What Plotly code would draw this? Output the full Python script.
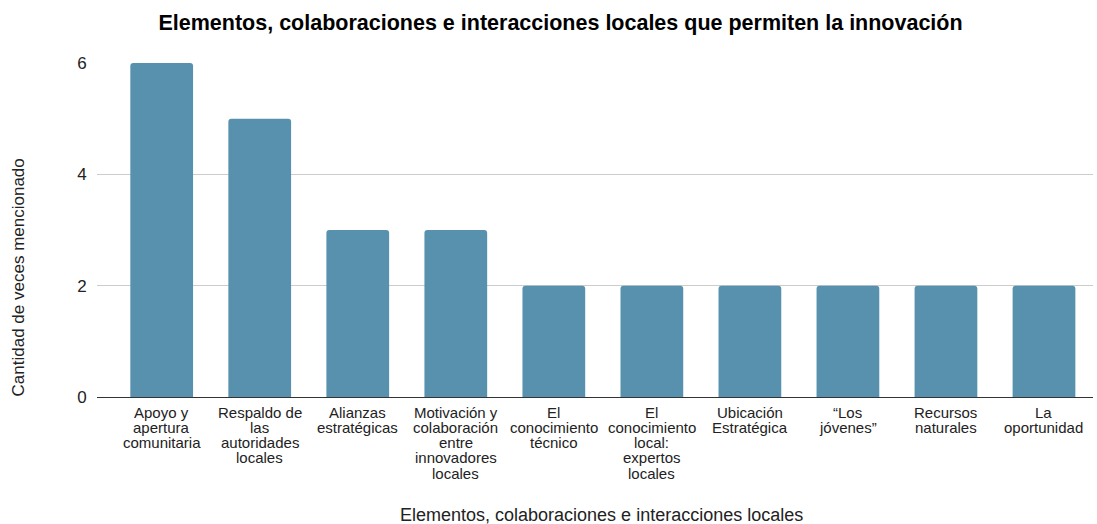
import plotly.graph_objects as go

category_lines = [
    ["Apoyo y", "apertura", "comunitaria"],
    ["Respaldo de", "las", "autoridades", "locales"],
    ["Alianzas", "estratégicas"],
    ["Motivación y", "colaboración", "entre", "innovadores", "locales"],
    ["El", "conocimiento", "técnico"],
    ["El", "conocimiento", "local:", "expertos", "locales"],
    ["Ubicación", "Estratégica"],
    ["“Los", "jóvenes”"],
    ["Recursos", "naturales"],
    ["La", "oportunidad"],
]
values = [6, 5, 3, 3, 2, 2, 2, 2, 2, 2]
y_ticks = [0, 2, 4, 6]

title_text = "Elementos, colaboraciones e interacciones locales que permiten la innovación"
x_title = "Elementos, colaboraciones e interacciones locales"
y_title = "Cantidad de veces mencionado"

x_pos = list(range(len(category_lines)))

fig = go.Figure(
    go.Bar(
        x=x_pos,
        y=values,
        marker=dict(color="#5791AD", cornerradius=3, line=dict(width=0)),
        width=0.64,
        hoverinfo="skip",
    )
)

annotations = []
# category labels, one text line each, placed on the x scale
for i, lines in enumerate(category_lines):
    for k, line in enumerate(lines):
        annotations.append(dict(
            text=line,
            xref="x", yref="paper",
            x=x_pos[i], y=0,
            xanchor="center", yanchor="middle",
            yshift=-15 - 15.3 * k,
            showarrow=False,
            font=dict(size=15, color="#222222"),
        ))

annotations.append(dict(
    text=x_title,
    xref="paper", yref="paper",
    x=0.507, y=-0.353,
    xanchor="center", yanchor="middle",
    showarrow=False,
    font=dict(size=18, color="#222222"),
))
annotations.append(dict(
    text=y_title,
    xref="paper", yref="paper",
    x=-0.079, y=0.359,
    xanchor="center", yanchor="middle",
    textangle=-90,
    showarrow=False,
    font=dict(size=17, color="#222222"),
))

fig.update_layout(
    width=1097,
    height=524,
    margin=dict(l=97, r=4, t=63, b=127),
    paper_bgcolor="white",
    plot_bgcolor="white",
    font=dict(family="Liberation Sans, Arial, sans-serif", color="#222222"),
    showlegend=False,
    title=dict(
        text="<b>" + title_text + "</b>",
        x=0.511,
        xanchor="center",
        y=0.958,
        yanchor="middle",
        font=dict(size=21.5, color="#000000"),
    ),
    xaxis=dict(
        range=[-0.66, 9.5],
        showticklabels=False,
        showgrid=False,
        showline=False,
        ticks="",
        automargin=False,
    ),
    yaxis=dict(
        range=[0, 6],
        tickvals=y_ticks,
        tickfont=dict(size=17, color="#222222"),
        showgrid=True,
        gridcolor="#CCCCCC",
        gridwidth=1,
        zeroline=True,
        zerolinecolor="#333333",
        zerolinewidth=1,
        showline=False,
        ticks="outside",
        ticklen=6,
        tickcolor="rgba(0,0,0,0)",
        automargin=False,
    ),
    annotations=annotations,
)

fig.write_html("out.html")
